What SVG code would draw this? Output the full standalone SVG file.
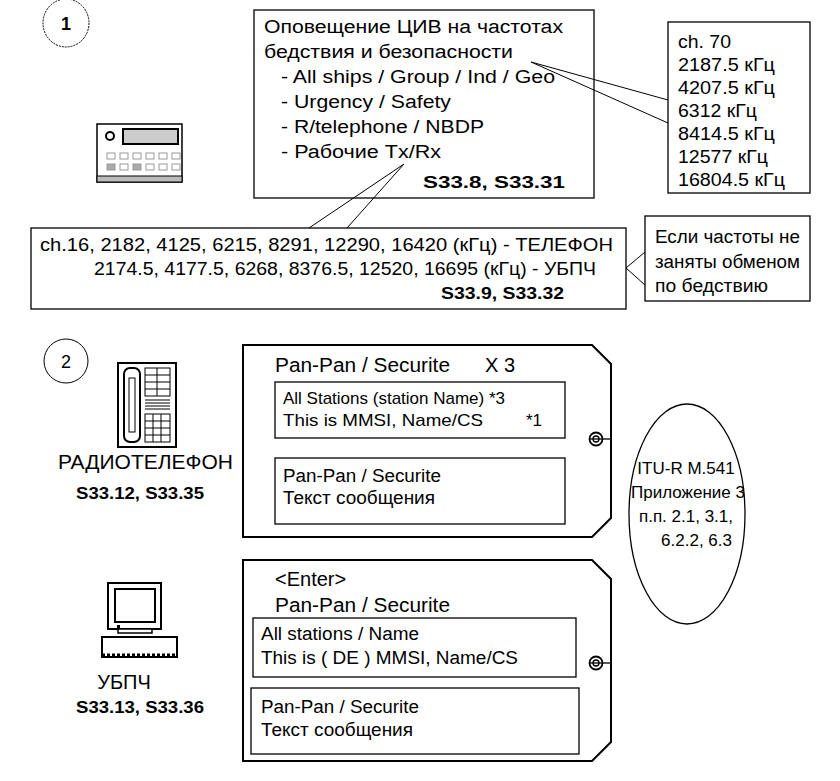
<svg xmlns="http://www.w3.org/2000/svg" width="840" height="781" viewBox="0 0 840 781">
<style>
text{font-family:"Liberation Sans",Arial,sans-serif;fill:#000}
.t20{font-size:20px}.t18{font-size:18px}.t17{font-size:17px}.t16{font-size:16px}
.b{font-weight:bold}
.box{fill:#fff;stroke:#000;stroke-width:1.3}
.thin{fill:none;stroke:#000;stroke-width:1}
</style>
<rect width="840" height="781" fill="#fff"/>
<g id="num1"><ellipse cx="66" cy="23" rx="23" ry="24" class="thin" stroke-dasharray="2,1"/><text x="66" y="30" class="t18 b" text-anchor="middle">1</text></g>
<g id="radio">
<rect x="97" y="124" width="85" height="58" fill="#fff" stroke="#000" stroke-width="1.5"/>
<circle cx="110" cy="136" r="4" fill="#fff" stroke="#000" stroke-width="2"/>
<rect x="123" y="129" width="55" height="15" fill="#ccc" stroke="#000" stroke-width="2"/>
<g fill="#fff" stroke="#999" stroke-width="1">
<rect x="107" y="153" width="8" height="6"/><rect x="120" y="153" width="8" height="6"/><rect x="133" y="153" width="8" height="6"/><rect x="146" y="153" width="8" height="6"/><rect x="159" y="153" width="8" height="6"/><rect x="172" y="153" width="8" height="6"/>
<rect x="107" y="164" width="8" height="6" fill="#aaa"/><rect x="120" y="164" width="8" height="6"/><rect x="133" y="164" width="8" height="6" fill="#aaa"/><rect x="146" y="164" width="8" height="6"/><rect x="159" y="164" width="8" height="6"/><rect x="172" y="164" width="8" height="6"/>
</g>
<rect x="97" y="176" width="85" height="6" fill="#bbb" stroke="#000"/>
</g>
<g id="boxA">
<rect x="254" y="10" width="340" height="188" class="box"/>
<text class="t18" x="264" y="33" textLength="299" lengthAdjust="spacingAndGlyphs">Оповещение ЦИВ на частотах</text>
<text class="t18" x="264" y="58" textLength="249" lengthAdjust="spacingAndGlyphs">бедствия и безопасности</text>
<text class="t18" x="281" y="83" textLength="274" lengthAdjust="spacingAndGlyphs">- All ships / Group / Ind / Geo</text>
<text class="t18" x="281" y="108" textLength="170" lengthAdjust="spacingAndGlyphs">- Urgency / Safety</text>
<text class="t18" x="281" y="133" textLength="203" lengthAdjust="spacingAndGlyphs">- R/telephone / NBDP</text>
<text class="t18" x="281" y="158" textLength="160" lengthAdjust="spacingAndGlyphs">- Рабочие Tx/Rx</text>
<text class="t17 b" x="423" y="188" textLength="142" lengthAdjust="spacingAndGlyphs">S33.8, S33.31</text>
</g>
<g id="ch70">
<rect x="668" y="22" width="142" height="171" class="box"/>
<text class="t18" x="678" y="48" textLength="53" lengthAdjust="spacingAndGlyphs">ch. 70</text>
<text class="t18" x="678" y="71" textLength="97" lengthAdjust="spacingAndGlyphs">2187.5 кГц</text>
<text class="t18" x="678" y="94" textLength="97" lengthAdjust="spacingAndGlyphs">4207.5 кГц</text>
<text class="t18" x="678" y="117" textLength="79" lengthAdjust="spacingAndGlyphs">6312 кГц</text>
<text class="t18" x="678" y="140" textLength="97" lengthAdjust="spacingAndGlyphs">8414.5 кГц</text>
<text class="t18" x="678" y="163" textLength="90" lengthAdjust="spacingAndGlyphs">12577 кГц</text>
<text class="t18" x="678" y="186" textLength="107" lengthAdjust="spacingAndGlyphs">16804.5 кГц</text>
</g>
<g id="freqbox">
<rect x="31" y="228" width="595" height="81" class="box"/>
<text class="t18" x="40" y="251" textLength="573" lengthAdjust="spacingAndGlyphs">ch.16, 2182,  4125,  6215, 8291, 12290, 16420 (кГц) - ТЕЛЕФОН</text>
<text class="t18" x="94" y="275" textLength="502" lengthAdjust="spacingAndGlyphs">2174.5, 4177.5, 6268, 8376.5, 12520, 16695 (кГц) - УБПЧ</text>
<text class="t17 b" x="441" y="299" textLength="123" lengthAdjust="spacingAndGlyphs">S33.9, S33.32</text>
</g>
<g id="note">
<rect x="645" y="216" width="165" height="85" class="box"/>
<text class="t18" x="655" y="243" textLength="145" lengthAdjust="spacingAndGlyphs">Если частоты не</text>
<text class="t18" x="655" y="268" textLength="145" lengthAdjust="spacingAndGlyphs">заняты обменом</text>
<text class="t18" x="655" y="292" textLength="113" lengthAdjust="spacingAndGlyphs">по бедствию</text>
</g>
<g id="connectors">
<polyline class="thin" points="668,100 531,62 668,123"/>
<polyline class="thin" points="309,228 404,164 347,228"/>
<polyline class="thin" points="645,252 626,268 645,285"/>
</g>
<g id="num2"><circle cx="66" cy="361" r="22" class="thin"/><text x="66" y="368" class="t18" text-anchor="middle">2</text></g>
<g id="phone">
<rect x="118" y="363" width="58" height="84" fill="#fff" stroke="#000" stroke-width="2"/>
<rect x="124" y="368" width="16" height="74" rx="6" fill="#fff" stroke="#000" stroke-width="2"/>
<rect x="129" y="378" width="6" height="54" fill="#fff" stroke="#000" stroke-width="1"/>
<g class="thin">
<rect x="145" y="368" width="25" height="28"/><line x1="157" y1="368" x2="157" y2="396"/><line x1="145" y1="375" x2="170" y2="375"/><line x1="145" y1="382" x2="170" y2="382"/><line x1="145" y1="389" x2="170" y2="389"/>
<line x1="145" y1="400" x2="170" y2="400"/><line x1="145" y1="403" x2="170" y2="403"/><line x1="145" y1="406" x2="170" y2="406"/><line x1="145" y1="409" x2="170" y2="409"/>
<rect x="145" y="414" width="25" height="28"/><line x1="153" y1="414" x2="153" y2="442"/><line x1="161" y1="414" x2="161" y2="442"/><line x1="145" y1="421" x2="170" y2="421"/><line x1="145" y1="428" x2="170" y2="428"/><line x1="145" y1="435" x2="170" y2="435"/>
</g>
<text class="t20" x="58" y="469" textLength="175" lengthAdjust="spacingAndGlyphs">РАДИОТЕЛЕФОН</text>
<text class="t17 b" x="76" y="499" textLength="128" lengthAdjust="spacingAndGlyphs">S33.12, S33.35</text>
</g>
<g id="tag1">
<path d="M243,345 H592 L611,364 V518 L592,537 H243 Z" fill="#fff" stroke="#000" stroke-width="2"/>
<text class="t20" x="275" y="372" textLength="175" lengthAdjust="spacingAndGlyphs">Pan-Pan / Securite</text><text class="t20" x="485" y="372">X 3</text>
<rect x="275" y="382" width="290" height="56" class="box"/>
<text class="t17" x="283" y="404" textLength="222" lengthAdjust="spacingAndGlyphs">All Stations (station Name) *3</text>
<text class="t17" x="283" y="426" textLength="200" lengthAdjust="spacingAndGlyphs">This is MMSI, Name/CS</text><text class="t17" x="526" y="426">*1</text>
<rect x="275" y="458" width="290" height="66" class="box"/>
<text class="t18" x="283" y="482" textLength="158" lengthAdjust="spacingAndGlyphs">Pan-Pan / Securite</text>
<text class="t18" x="283" y="504" textLength="152" lengthAdjust="spacingAndGlyphs">Текст сообщения</text>
<circle cx="596" cy="439" r="6.5" fill="#fff" stroke="#000" stroke-width="1.8"/><circle cx="596" cy="439" r="3" fill="none" stroke="#000" stroke-width="1.3"/><line x1="590" y1="439" x2="611" y2="439" stroke="#000" stroke-width="1.3"/>
</g>
<g id="itu">
<ellipse cx="687" cy="514" rx="58" ry="110" class="box"/>
<text class="t17" x="686" y="474" text-anchor="middle">ITU-R M.541</text>
<text class="t17" x="688" y="498" text-anchor="middle">Приложение 3</text>
<text class="t17" x="686" y="522" text-anchor="middle">п.п. 2.1, 3.1,</text>
<text class="t17" x="732" y="546" text-anchor="end">6.2.2, 6.3</text>
</g>
<g id="pc">
<rect x="108" y="583" width="53" height="46" fill="#fff" stroke="#000" stroke-width="2"/>
<rect x="115" y="589" width="40" height="33" fill="#fff" stroke="#000" stroke-width="2"/>
<rect x="117" y="625" width="3" height="3" fill="#000"/>
<rect x="118" y="629" width="34" height="4" fill="#fff" stroke="#000" stroke-width="1.5"/>
<rect x="102" y="637" width="75" height="20" fill="#fff" stroke="#000" stroke-width="2"/>
<line x1="102" y1="655" x2="177" y2="655" stroke="#000" stroke-width="3" stroke-dasharray="3,2"/>
<text class="t20" x="124" y="689" text-anchor="middle">УБПЧ</text>
<text class="t17 b" x="76" y="713" textLength="128" lengthAdjust="spacingAndGlyphs">S33.13, S33.36</text>
</g>
<g id="tag2">
<path d="M243,560 H592 L611,579 V742 L592,761 H243 Z" fill="#fff" stroke="#000" stroke-width="2"/>
<text class="t20" x="275" y="586">&lt;Enter&gt;</text>
<text class="t20" x="275" y="612" textLength="175" lengthAdjust="spacingAndGlyphs">Pan-Pan / Securite</text>
<rect x="253" y="618" width="323" height="59" class="box"/>
<text class="t18" x="261" y="640" textLength="158" lengthAdjust="spacingAndGlyphs">All stations / Name</text>
<text class="t18" x="261" y="664" textLength="257" lengthAdjust="spacingAndGlyphs">This is ( DE ) MMSI, Name/CS</text>
<rect x="251" y="688" width="328" height="66" class="box"/>
<text class="t18" x="261" y="713" textLength="158" lengthAdjust="spacingAndGlyphs">Pan-Pan / Securite</text>
<text class="t18" x="261" y="736" textLength="152" lengthAdjust="spacingAndGlyphs">Текст сообщения</text>
<circle cx="596" cy="663" r="6.5" fill="#fff" stroke="#000" stroke-width="1.8"/><circle cx="596" cy="663" r="3" fill="none" stroke="#000" stroke-width="1.3"/><line x1="590" y1="663" x2="611" y2="663" stroke="#000" stroke-width="1.3"/>
</g>
</svg>
